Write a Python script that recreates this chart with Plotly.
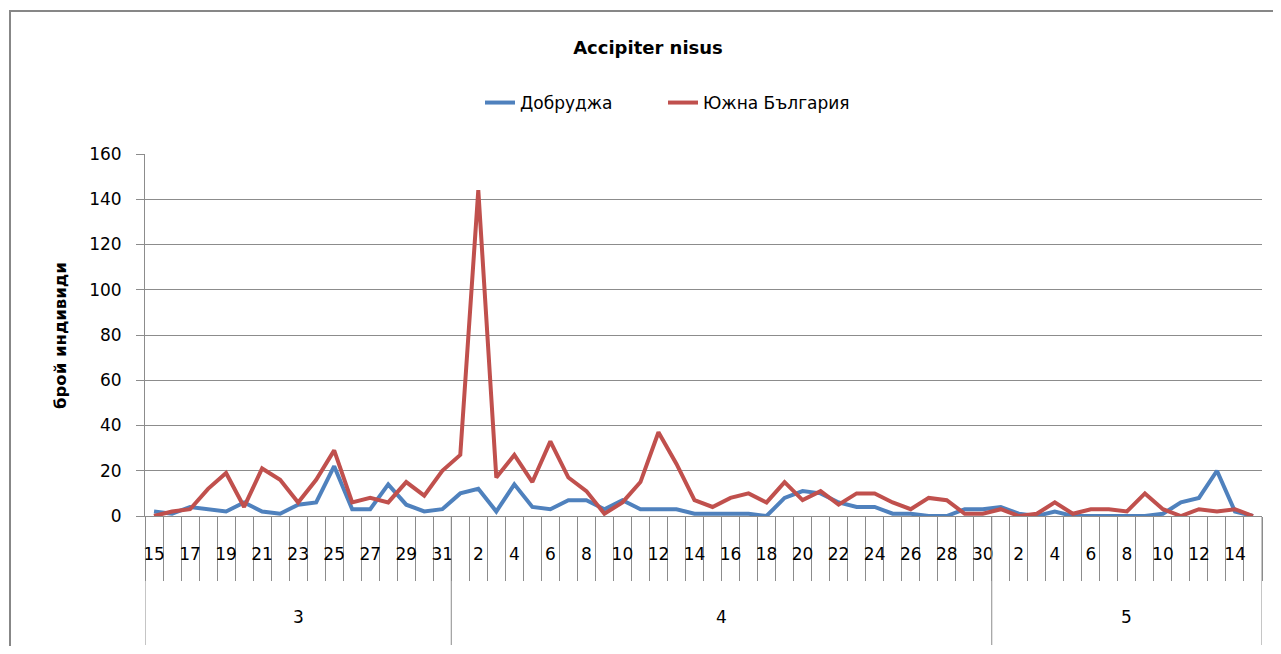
import plotly.graph_objects as go

# Data
months = ["3", "4", "5"]
month_days = [list(range(15, 32)), list(range(1, 31)), list(range(1, 16))]
days = [d for m in month_days for d in m]

dobrudzha = [2, 1, 4, 3, 2, 6, 2, 1, 5, 6, 22, 3, 3, 14, 5, 2, 3,
             10, 12, 2, 14, 4, 3, 7, 7, 3, 7, 3, 3, 3, 1, 1, 1, 1, 0, 8,
             11, 10, 6, 4, 4, 1, 1, 0, 0, 3, 3,
             4, 1, 0, 2, 0, 0, 0, 0, 0, 1, 6, 8, 20, 2, 0]
yuzhna = [0, 2, 3, 12, 19, 4, 21, 16, 6, 16, 29, 6, 8, 6, 15, 9, 20,
          27, 144, 17, 27, 15, 33, 17, 11, 1, 6, 15, 37, 23, 7, 4, 8, 10, 6,
          15, 7, 11, 5, 10, 10, 6, 3, 8, 7, 1, 1,
          3, 0, 1, 6, 1, 3, 3, 2, 10, 3, 0, 3, 2, 3, 0]

series_names = ["Добруджа", "Южна България"]
title_text = "Accipiter nisus"
y_title = "брой индивиди"

idx = list(range(len(days)))

# page offset (body margin) and figure geometry in screen pixels
OX, OY = 8, 8
W, H = 1265, 638
PL, PR, PT, PB = 145, 1262, 154, 516   # plot area on screen
L, R, T, B = PL - OX, OX + W - PR, PT - OY, OY + H - PB
pw, ph = PR - PL, PB - PT

def px_x(px):
    return (px - PL) / pw

def px_y(py):
    return (PB - py) / ph

GRAY = "#8c8c8c"
FONT = "DejaVu Sans"

fig = go.Figure()
fig.add_trace(go.Scatter(x=idx, y=dobrudzha, mode="lines", name=series_names[0],
                         line=dict(color="#4F81BD", width=4), legend="legend",
                         showlegend=True))
fig.add_trace(go.Scatter(x=idx, y=yuzhna, mode="lines", name=series_names[1],
                         line=dict(color="#C0504D", width=4), legend="legend2",
                         showlegend=True))

# month boundaries (category index space)
bounds = [-0.5]
for m in month_days:
    bounds.append(bounds[-1] + len(m))
shapes = []
for b in bounds:
    shapes.append(dict(type="line", xref="x", yref="paper", x0=b, x1=b,
                       y0=0, y1=px_y(645), line=dict(color=GRAY, width=1)))
# outer frame
shapes.append(dict(type="rect", xref="paper", yref="paper",
                   x0=px_x(10), x1=px_x(1300), y0=px_y(700), y1=px_y(11),
                   line=dict(color="#878787", width=2), fillcolor="rgba(0,0,0,0)"))

annotations = []
for i, m in enumerate(months):
    annotations.append(dict(x=(bounds[i] + bounds[i + 1]) / 2, xref="x",
                            y=px_y(617), yref="paper", text=m, showarrow=False,
                            font=dict(family=FONT, size=17, color="#000"),
                            xanchor="center", yanchor="middle"))
annotations.append(dict(x=px_x(60), xref="paper", y=px_y(336), yref="paper",
                        text="<b>" + y_title + "</b>", textangle=-90, showarrow=False,
                        font=dict(family=FONT, size=16.5, color="#000"),
                        xanchor="center", yanchor="middle"))

legend_common = dict(orientation="h", xanchor="left", y=px_y(103), yanchor="middle",
                     font=dict(family=FONT, size=17, color="#000"),
                     bgcolor="rgba(0,0,0,0)", visible=True)

fig.update_layout(
    width=W, height=H, autosize=False, showlegend=True,
    margin=dict(l=L, r=R, t=T, b=B),
    paper_bgcolor="white", plot_bgcolor="white",
    title=dict(text="<b>" + title_text + "</b>", x=(648 - OX) / W, xref="container",
               xanchor="center", y=1 - (48 - OY) / H, yref="container", yanchor="middle",
               font=dict(family=FONT, size=18, color="#000")),
    legend=dict(x=px_x(480), **legend_common),
    legend2=dict(x=px_x(663), **legend_common),
    shapes=shapes, annotations=annotations,
    xaxis=dict(range=[-0.5, len(days) - 0.5], showgrid=False, zeroline=False,
               showline=True, linecolor=GRAY, linewidth=1,
               tickmode="array", tickvals=idx[::2], ticktext=[str(d) for d in days[::2]],
               ticks="outside", ticklen=23, tickcolor="rgba(0,0,0,0)",
               tickfont=dict(family=FONT, size=17, color="#000"),
               minor=dict(tickmode="linear", tick0=-0.5, dtick=1, ticks="outside",
                          ticklen=64, tickcolor=GRAY, tickwidth=1, showgrid=False)),
    yaxis=dict(range=[0, 160], dtick=20, showgrid=True, gridcolor=GRAY, gridwidth=1,
               zeroline=False, showline=True, linecolor=GRAY, linewidth=1,
               ticks="outside", ticklen=8, tickcolor=GRAY, ticklabelstandoff=11,
               tickfont=dict(family=FONT, size=17, color="#000")),
)

fig.write_html("out.html")
